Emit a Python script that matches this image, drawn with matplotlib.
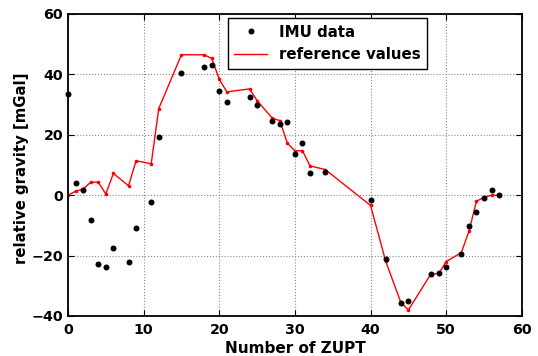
import matplotlib

matplotlib.use("Agg")
import matplotlib.pyplot as plt  # noqa: E402

plt.rcParams["font.family"] = ["DejaVu Sans"]
plt.rcParams["font.weight"] = "bold"

# ---- data --------------------------------------------------------------------
imu_x = [0, 1, 2, 3, 4, 5, 6, 8, 9, 11, 12, 15, 18, 19, 20, 21, 24, 25, 27, 28,
         29, 30, 31, 32, 34, 40, 42, 44, 45, 48, 49, 50, 52, 53, 54, 55, 56, 57]
imu_y = [33.6, 4.0, 1.8, -8.1, -22.9, -23.7, -17.4, -22.0, -11.0, -2.1, 19.4,
         40.5, 42.4, 43.2, 34.6, 30.7, 32.6, 29.8, 24.6, 23.5, 24.4, 13.7, 17.2,
         7.3, 7.8, -1.5, -21.1, -35.8, -35.0, -26.0, -25.8, -23.7, -19.5, -10.3,
         -5.5, -0.8, 1.7, 0.0]

ref_x = [0, 1, 2, 3, 4, 5, 6, 8, 9, 11, 12, 15, 18, 19, 20, 21, 24, 25, 27, 28,
         29, 30, 31, 32, 34, 40, 42, 44, 45, 48, 49, 50, 52, 53, 54, 55, 56, 57]
ref_y = [0.0, 1.3, 2.0, 4.3, 4.3, 0.4, 7.2, 3.1, 11.4, 10.4, 28.7, 46.5, 46.5,
         45.3, 38.4, 34.2, 35.2, 31.3, 25.5, 24.7, 17.2, 14.7, 14.7, 9.7, 8.5,
         -3.4, -21.9, -35.5, -38.0, -26.0, -26.0, -22.0, -19.0, -12.0, -2.0,
         -0.7, 0.0, 0.0]

x_ticks = [0, 10, 20, 30, 40, 50, 60]
y_ticks = [-40, -20, 0, 20, 40, 60]

fig = plt.figure(figsize=(5.38, 3.56), dpi=100)
ax = fig.add_axes([0.1264, 0.1124, 0.8436, 0.8483])

ax.plot(imu_x, imu_y, "o", color="black", markersize=4.3, markeredgewidth=0,
        clip_on=False, zorder=3)
ax.plot(ref_x, ref_y, "-", color="red", lw=1.0, marker="o", markersize=2.6,
        markeredgewidth=0, zorder=2)
# legend shows the plain red line for the reference values
dot_handle = plt.Line2D([], [], color="black", marker="o", markersize=4.3,
                        markeredgewidth=0, ls="none")
ref_handle = plt.Line2D([], [], color="red", lw=1.0)

ax.set_xlim(0, 60)
ax.set_ylim(-40, 60)
ax.set_xticks(x_ticks)
ax.set_yticks(y_ticks)
ax.grid(True, linestyle=":", color="#888888", linewidth=0.8)
ax.tick_params(direction="in", top=True, right=True, labelsize=10.3, length=4,
               width=0.8)
ax.tick_params(axis="y", pad=3.5)
ax.tick_params(axis="x", pad=5)
for sp in ax.spines.values():
    sp.set_linewidth(1.3)

ax.set_xlabel("Number of ZUPT", fontsize=11, fontweight="bold")
ax.set_ylabel("relative gravity [mGal]", fontsize=10.7, fontweight="bold")
ax.xaxis.set_label_coords(0.5, -0.083)
ax.yaxis.set_label_coords(-0.086, 0.49)

leg = ax.legend([dot_handle, ref_handle], ["IMU data", "reference values"],
                loc="upper right", bbox_to_anchor=(0.791, 0.987), fancybox=False,
                framealpha=1, edgecolor="black", handlelength=2.2,
                borderaxespad=0, borderpad=0.45, labelspacing=0.5,
                handletextpad=0.75, prop={"weight": "bold", "size": 10.8})
leg.get_frame().set_linewidth(1.0)

fig.savefig("out.png", dpi=100)
